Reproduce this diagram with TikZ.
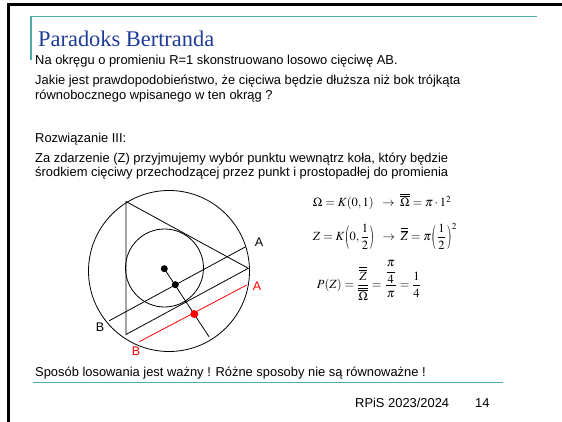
\documentclass[tikz,border=0pt]{standalone}
\usepackage{mathptmx}
\usepackage{amsmath}
\usepackage[no-math]{fontspec}
\setmainfont{Liberation Sans}
\newfontfamily\titlefont{Liberation Serif}
\definecolor{teal1}{RGB}{75,172,170}
\definecolor{titleblue}{RGB}{30,60,150}
\definecolor{red1}{RGB}{255,0,0}
\newcommand{\dbr}[1]{\overline{\overline{#1}}}
\newcommand{\lpar}{\mathopen{\vcenter{\hbox{\scalebox{1}[1.9]{$($}}}}}
\newcommand{\rpar}{\mathclose{\vcenter{\hbox{\scalebox{1}[1.9]{$)$}}}}}
\begin{document}
\begin{tikzpicture}[x=1pt,y=-1pt,
  txt/.style={anchor=base west, inner sep=0pt, font=\fontsize{12.9}{14}\selectfont},
  mth/.style={anchor=base west, inner sep=0pt, font=\fontsize{12.5}{14}\selectfont},
  lbl/.style={inner sep=0pt, font=\fontsize{12.5}{14}\selectfont},
  geo/.style={line width=0.8pt, black},
  dot/.style={circle, fill=black, inner sep=0pt, minimum size=7pt}]
\useasboundingbox (0,0) rectangle (562,422);
% border
\fill[black] (7,3.5) rectangle (562,6.5);
\fill[black] (7,3.5) rectangle (10,422);
% teal lines
\draw[teal1, line width=1.6pt] (30.7,60) -- (30.7,16.7) -- (537,16.7);
\draw[teal1, line width=1.6pt] (33,382.5) -- (503,382.5);
% title
\node[anchor=base west, inner sep=0pt, text=titleblue, font=\titlefont\fontsize{22.4}{26}\selectfont] (title) at (38,46.5) {Paradoks Bertranda};
% text
\node[txt] (t1) at (35,65) {Na okręgu o promieniu R=1 skonstruowano losowo cięciwę AB.};
\node[txt] (t2) at (35,85) {Jakie jest prawdopodobieństwo, że cięciwa będzie dłuższa niż bok trójkąta};
\node[txt] (t3) at (35,99.6) {równobocznego wpisanego w ten okrąg ?};
\node[txt] (t4) at (35,142.7) {Rozwiązanie III:};
\node[txt] (t5) at (35,162.5) {Za zdarzenie (Z) przyjmujemy wybór punktu wewnątrz koła, który będzie};
\node[txt] (t6) at (35,177) {środkiem cięciwy przechodzącej przez punkt i prostopadłej do promienia};
\node[txt] (t7) at (35,376.7) {Sposób losowania jest ważny ! Różne sposoby nie są równoważne !};
\node[txt] (foot) at (355,407) {RPiS 2023/2024};
\node[txt] (page) at (475,407) {14};
% geometry
\coordinate (O) at (169,271);
\coordinate (I) at (164.5,268);
\coordinate (T1) at (126,201.5);
\coordinate (T2) at (126,334.5);
\coordinate (T3) at (248.3,268.3);
\coordinate (E) at (209,336.7);
\coordinate (B1) at (109.3,320.7);
\coordinate (A1) at (245.7,246.7);
\coordinate (B2) at (139.3,341.7);
\coordinate (A2) at (246.7,285);
\draw[geo] (O) circle[radius=80.5];
\draw[geo] (I) circle[radius=39];
\draw[geo] (T1) -- (T2) -- (T3) -- cycle;
\draw[geo] (B1) -- (A1);
\draw[line width=0.8pt, red1] (B2) -- (A2);
\coordinate (C0) at (164.3,268.7);
\draw[geo] (C0) -- (E);
\node[dot] (D0) at (C0) {};
\node[dot] (D1) at (175.3,284.7) {};
\node[dot, fill=red1, minimum size=8pt] (D2) at (194.3,314) {};
% labels
\node[lbl] (lA1) at (259,241.7) {A};
\node[lbl, text=red1] (lA2) at (257,285.7) {A};
\node[lbl] (lB1) at (100,326.7) {B};
\node[lbl, text=red1] (lB2) at (136,351) {B};
% math
\node[mth] (m1) at (312.7,206.7) {$\Omega = K(0,1)\;\;\rightarrow\;\dbr{\Omega} = \pi\cdot 1^{2}$};
\node[mth] (m2) at (312.7,240.7) {$Z = K\lpar 0,\dfrac{1}{2}\rpar\;\;\rightarrow\;\dbr{Z} = \pi\lpar\mkern1.5mu\dfrac{1}{2}\mkern1.5mu\rpar^{2}$};
\node[mth] (m3) at (316.7,288.5) {$P(Z) = \dfrac{\dbr{Z}}{\dbr{\Omega}} = \dfrac{\dfrac{\pi}{4}}{\pi} = \dfrac{1}{4}$};
\end{tikzpicture}
\end{document}
